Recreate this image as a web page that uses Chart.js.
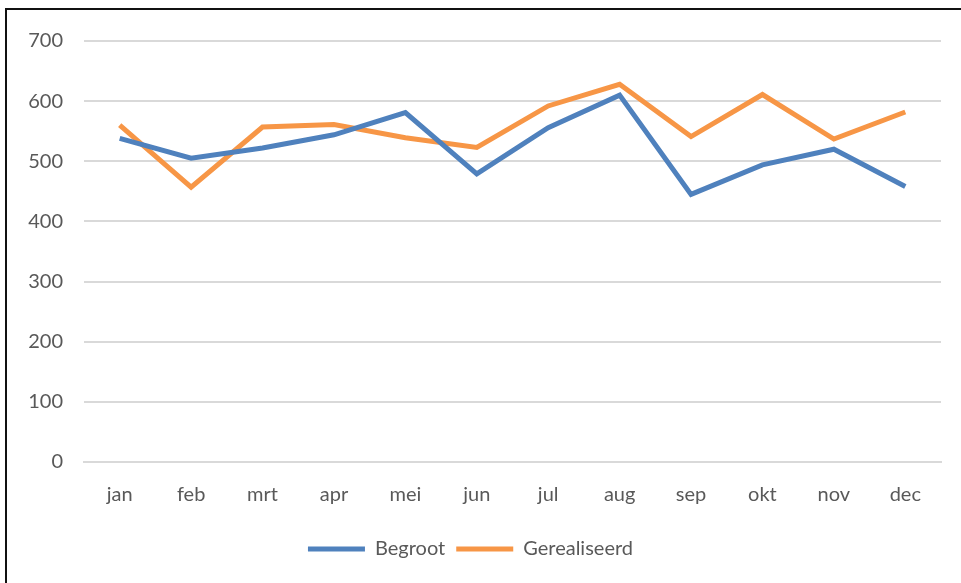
<!DOCTYPE html>
<html>
<head>
<meta charset="utf-8">
<script src="https://cdn.jsdelivr.net/npm/chart.js@4"></script>
<style>
  html, body { margin: 0; padding: 0; background: #fff; overflow: hidden; }
  #wrap { position: absolute; left: 0; top: 0; width: 961px; height: 583px; }
  #frame { position: absolute; left: 5px; top: 8px; width: 1000px; height: 700px;
           border-left: 2px solid #111; border-top: 2px solid #111; pointer-events: none; }
</style>
</head>
<body>
<div id="wrap">
  <canvas id="myChart" width="961" height="583"></canvas>
  <div id="frame"></div>
</div>
<script>
// maanden
const maanden = ['jan','feb','mrt','apr','mei','jun','jul','aug','sep','okt','nov','dec'];
// begroot vs gerealiseerd
const begroot = [538, 505, 522, 544, 581, 479, 556, 610, 445, 494, 520, 458];
const gerealiseerd = [560, 457, 557, 561, 539, 523, 592, 628, 541, 611, 537, 582];
const yTicks = [0, 100, 200, 300, 400, 500, 600, 700];

const lettertype = { family: 'Lato', size: 20 };

const ctx = document.getElementById('myChart').getContext('2d');
const myChart = new Chart(ctx, {
  type: 'line',
  data: {
    labels: maanden,
    datasets: [{
      label: 'Begroot',
      data: begroot,
      borderColor: '#4f81bd',
      backgroundColor: '#4f81bd',
      borderWidth: 5,
      pointRadius: 0,
      tension: 0
    }, {
      label: 'Gerealiseerd',
      data: gerealiseerd,
      borderColor: '#f79646',
      backgroundColor: '#f79646',
      borderWidth: 5,
      pointRadius: 0,
      tension: 0
    }]
  },
  options: {
    responsive: false,
    animation: false,
    layout: { padding: { left: 0, right: 20, top: 41, bottom: 14 } },
    plugins: {
      tooltip: { enabled: false },
      legend: {
        position: 'bottom',
        labels: {
          font: lettertype,
          color: '#595959',
          boxWidth: 57,
          boxHeight: 5,
          padding: 11,
          generateLabels: function(chart) {
            const items = Chart.defaults.plugins.legend.labels.generateLabels(chart);
            items.forEach(it => { it.lineWidth = 0; });
            return items;
          }
        }
      }
    },
    scales: {
      x: {
        offset: true,
        grid: { display: false, drawTicks: false },
        border: { color: '#d9d9d9', width: 2 },
        ticks: { font: lettertype, color: '#595959', padding: 21 }
      },
      y: {
        min: 0, max: 700,
        afterFit: function(scale) { scale.width = 84; },
        afterBuildTicks: function(scale) { scale.ticks = yTicks.map(v => ({ value: v })); },
        grid: { color: '#d9d9d9', lineWidth: 2, drawTicks: false },
        border: { display: false },
        ticks: { font: lettertype, color: '#595959', padding: 21 }
      }
    }
  }
});
</script>
</body>
</html>
